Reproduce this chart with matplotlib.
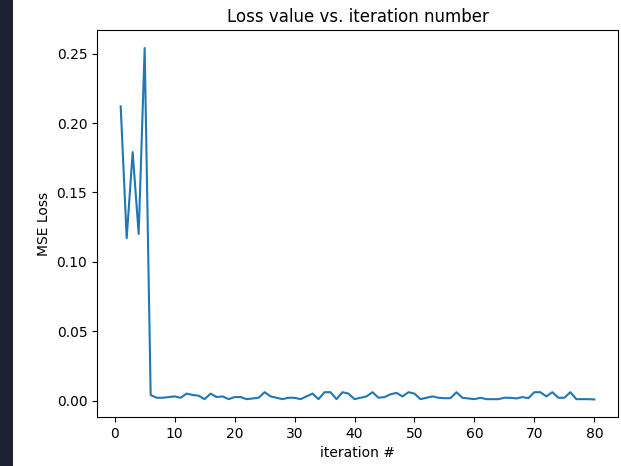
import matplotlib
matplotlib.use("Agg")
import matplotlib.pyplot as plt
from matplotlib.patches import Rectangle

iterations = list(range(1, 81))
loss = [0.212, 0.117, 0.179, 0.120, 0.254, 0.004, 0.002, 0.002, 0.0025, 0.003,
        0.002, 0.005, 0.004, 0.0035, 0.001, 0.005, 0.0025, 0.003, 0.001, 0.0025,
        0.0025, 0.001, 0.0015, 0.002, 0.006, 0.003, 0.002, 0.001, 0.002, 0.002,
        0.001, 0.003, 0.005, 0.001, 0.006, 0.006, 0.001, 0.006, 0.005, 0.001,
        0.002, 0.003, 0.006, 0.002, 0.0025, 0.0045, 0.0055, 0.003, 0.006, 0.005,
        0.001, 0.002, 0.003, 0.002, 0.0017, 0.0017, 0.006, 0.002, 0.0015, 0.001,
        0.002, 0.001, 0.001, 0.001, 0.002, 0.002, 0.0015, 0.0025, 0.0017, 0.006,
        0.006, 0.003, 0.006, 0.002, 0.002, 0.006, 0.001, 0.001, 0.001, 0.0008]

fig = plt.figure(figsize=(6.21, 4.66), dpi=100)
fig.patches.append(Rectangle((0, 0), 13 / 621, 1, transform=fig.transFigure,
                             facecolor="#1b2130", edgecolor="none", zorder=0))
ax = fig.add_axes([97 / 621, 1 - 417 / 466, (618 - 97) / 621, (417 - 30.5) / 466])
ax.plot(iterations, loss, color="#1f77b4")
ax.set_title("Loss value vs. iteration number")
ax.set_xlabel("iteration #")
ax.set_ylabel("MSE Loss")
fig.savefig("out.png", dpi=100)
